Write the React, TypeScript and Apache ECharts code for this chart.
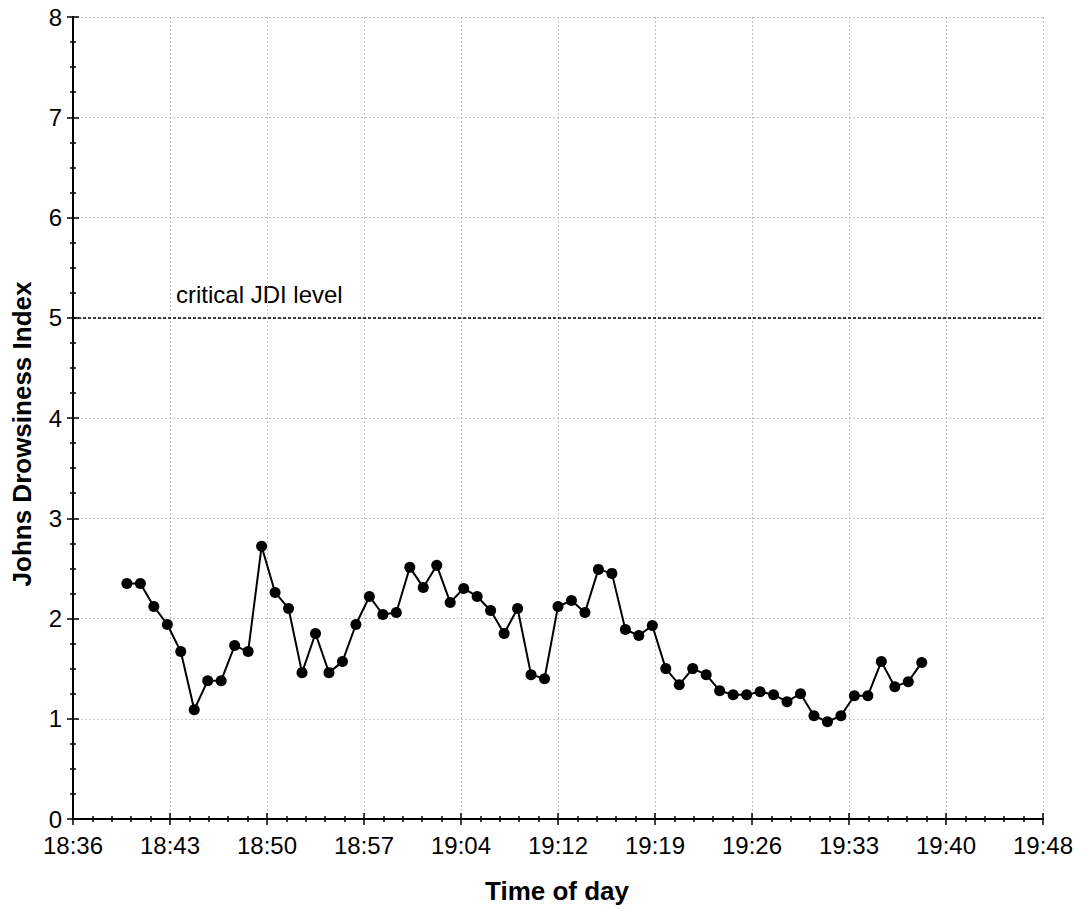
import React, { useEffect, useRef } from "react";
import * as echarts from "echarts";

const times: string[] = [
  "18:40", "18:41", "18:42", "18:43", "18:44", "18:45", "18:46", "18:47", "18:48", "18:49",
  "18:50", "18:51", "18:52", "18:53", "18:54", "18:55", "18:56", "18:57", "18:58", "18:59",
  "19:00", "19:01", "19:02", "19:03", "19:04", "19:05", "19:06", "19:07", "19:08", "19:09",
  "19:10", "19:11", "19:12", "19:13", "19:14", "19:15", "19:16", "19:17", "19:18", "19:19",
  "19:20", "19:21", "19:22", "19:23", "19:24", "19:25", "19:26", "19:27", "19:28", "19:29",
  "19:30", "19:31", "19:32", "19:33", "19:34", "19:35", "19:36", "19:37", "19:38", "19:39",
];

const jdi: number[] = [
  2.35, 2.35, 2.12, 1.94, 1.67, 1.09, 1.38, 1.38, 1.73, 1.67,
  2.72, 2.26, 2.10, 1.46, 1.85, 1.46, 1.57, 1.94, 2.22, 2.04,
  2.06, 2.51, 2.31, 2.53, 2.16, 2.30, 2.22, 2.08, 1.85, 2.10,
  1.44, 1.40, 2.12, 2.18, 2.06, 2.49, 2.45, 1.89, 1.83, 1.93,
  1.50, 1.34, 1.50, 1.44, 1.28, 1.24, 1.24, 1.27, 1.24, 1.17,
  1.25, 1.03, 0.97, 1.03, 1.23, 1.23, 1.57, 1.32, 1.37, 1.56,
];

const axisStart = "18:36";
const axisEnd = "19:48";
const criticalLevel = 5;
const criticalLabel = "critical JDI level";
const xTitle = "Time of day";
const yTitle = "Johns Drowsiness Index";

const toMin = (t: string) => {
  const [h, m] = t.split(":").map(Number);
  return h * 60 + m;
};
const fmt = (m: number) => {
  const mm = Math.floor(m + 1e-6);
  const h = Math.floor(mm / 60);
  const r = mm % 60;
  return `${h}:${r < 10 ? "0" : ""}${r}`;
};

const FONT = 'Arial, "Liberation Sans", sans-serif';

export default function App() {
  const ref = useRef<HTMLDivElement>(null);
  useEffect(() => {
    if (!ref.current) return;
    const chart = echarts.init(ref.current, undefined, { renderer: "svg" });
    const base = toMin(axisStart);
    const span = toMin(axisEnd) - base;
    const data = times.map((t, i) => [toMin(t) - base, jdi[i]]);

    const commonX = {
      type: "value" as const,
      min: 0,
      max: span,
      interval: span / 10,
      axisLine: { show: true, lineStyle: { color: "#000", width: 2 } },
      axisTick: { show: true, inside: true, length: 6, lineStyle: { color: "#000", width: 1.5 } },
      minorTick: { show: true, splitNumber: 5, length: 3, lineStyle: { color: "#000", width: 1.5 } },
    };
    const commonY = {
      type: "value" as const,
      min: 0,
      max: 8,
      interval: 1,
      axisLine: { show: true, lineStyle: { color: "#000", width: 2 } },
      axisTick: { show: true, inside: true, length: 6, lineStyle: { color: "#000", width: 1.5 } },
      minorTick: { show: true, splitNumber: 4, length: 3, lineStyle: { color: "#000", width: 1.5 } },
    };

    chart.setOption({
      animation: false,
      backgroundColor: "#fff",
      grid: { left: 73, right: 38, top: 17, bottom: 91, containLabel: false },
      xAxis: [
        {
          ...commonX,
          position: "bottom",
          axisLabel: {
            show: true,
            color: "#000",
            fontFamily: FONT,
            fontSize: 24,
            margin: 14,
            formatter: (v: number) => fmt(v + base),
          },
          splitLine: { show: true, lineStyle: { color: "#c4c4c4", type: [2, 2], width: 1 } },
        },
        {
          ...commonX,
          position: "top",
          axisLabel: { show: false },
          splitLine: { show: false },
        },
      ],
      yAxis: [
        {
          ...commonY,
          position: "left",
          axisLabel: { show: true, color: "#000", fontFamily: FONT, fontSize: 24, margin: 11 },
          splitLine: { show: true, lineStyle: { color: "#c4c4c4", type: [2, 2], width: 1 } },
        },
        {
          ...commonY,
          position: "right",
          axisLabel: { show: false },
          splitLine: { show: false },
        },
      ],
      series: [
        {
          type: "line",
          xAxisIndex: 0,
          yAxisIndex: 0,
          data,
          symbol: "circle",
          symbolSize: 11,
          showAllSymbol: true,
          itemStyle: { color: "#000" },
          lineStyle: { color: "#000", width: 2 },
          markLine: {
            silent: true,
            symbol: "none",
            label: { show: false },
            lineStyle: { color: "#000", type: [3, 2], width: 1.6 },
            data: [{ yAxis: criticalLevel }],
          },
        },
      ],
      graphic: [
        {
          type: "text",
          left: 176,
          top: 282,
          style: { text: criticalLabel, fill: "#000", font: `24px ${FONT}` },
        },
        {
          type: "text",
          x: 557,
          y: 891,
          style: {
            text: xTitle,
            fill: "#000",
            font: `bold 26px ${FONT}`,
            textAlign: "center",
            textVerticalAlign: "middle",
          },
        },
        {
          type: "text",
          x: 22,
          y: 434,
          rotation: Math.PI / 2,
          style: {
            text: yTitle,
            fill: "#000",
            font: `bold 26px ${FONT}`,
            textAlign: "center",
            textVerticalAlign: "middle",
          },
        },
      ],
    });
    return () => chart.dispose();
  }, []);
  return (
    <div
      ref={ref}
      style={{ position: "fixed", left: 0, top: 0, width: 1081, height: 910, background: "#fff" }}
    />
  );
}
